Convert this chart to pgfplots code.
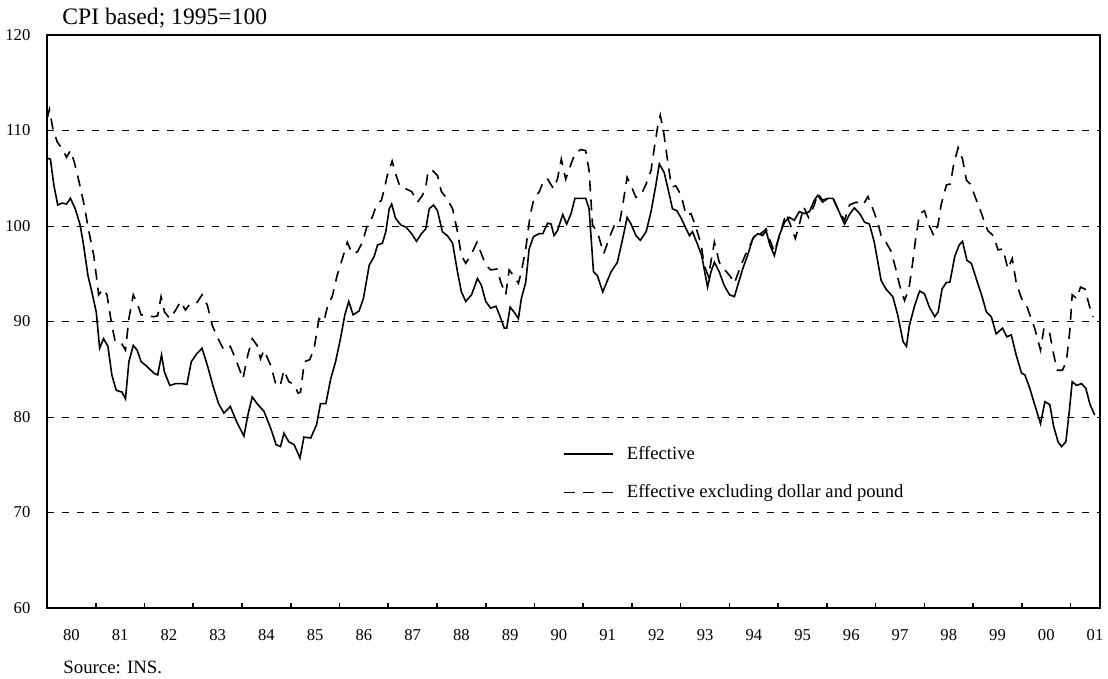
\documentclass[border=0pt]{standalone}
\usepackage{fontspec}
\setmainfont{Liberation Serif}
\usepackage{pgfplots}
\pgfplotsset{compat=1.18}
\usepackage{pgfplotstable}

% effective exchange rate, CPI based, 1995=100
\pgfplotstableread{
year val
1980.00 107.1
1980.07 107.0
1980.14 104.3
1980.22 102.2
1980.31 102.4
1980.40 102.3
1980.48 102.9
1980.58 101.8
1980.68 100.1
1980.75 98.0
1980.84 94.8
1980.92 93.1
1981.01 91.0
1981.08 87.2
1981.16 88.2
1981.25 87.4
1981.33 84.4
1981.42 82.8
1981.54 82.6
1981.61 81.9
1981.68 85.8
1981.77 87.5
1981.85 87.0
1981.93 85.8
1982.05 85.3
1982.19 84.6
1982.27 84.4
1982.35 86.5
1982.41 84.7
1982.52 83.3
1982.64 83.5
1982.77 83.5
1982.87 83.4
1982.96 85.8
1983.07 86.6
1983.18 87.2
1983.29 85.4
1983.42 83.0
1983.52 81.4
1983.63 80.4
1983.76 81.1
1983.89 79.5
1984.04 78.0
1984.12 80.2
1984.21 82.1
1984.31 81.4
1984.45 80.6
1984.59 78.8
1984.70 77.1
1984.79 76.9
1984.86 78.3
1984.96 77.4
1985.07 77.1
1985.19 75.7
1985.27 77.9
1985.41 77.8
1985.53 79.2
1985.61 81.4
1985.72 81.4
1985.82 84.0
1985.92 85.8
1986.02 88.2
1986.11 90.7
1986.19 92.1
1986.28 90.7
1986.40 91.1
1986.49 92.4
1986.61 95.9
1986.71 96.8
1986.78 98.0
1986.88 98.2
1986.95 99.4
1987.02 101.8
1987.07 102.3
1987.15 100.8
1987.26 100.1
1987.36 99.9
1987.48 99.2
1987.58 98.4
1987.68 99.2
1987.77 99.7
1987.84 101.8
1987.93 102.2
1988.01 101.6
1988.11 99.4
1988.21 99.0
1988.32 98.2
1988.42 95.2
1988.50 93.1
1988.59 92.1
1988.71 92.8
1988.83 94.5
1988.91 93.8
1989.00 92.1
1989.10 91.4
1989.21 91.6
1989.31 90.3
1989.38 89.3
1989.43 89.3
1989.50 91.5
1989.58 91.0
1989.67 90.3
1989.73 92.4
1989.82 94.1
1989.89 97.6
1989.98 98.9
1990.10 99.2
1990.17 99.2
1990.27 100.3
1990.34 100.2
1990.40 99.0
1990.47 99.5
1990.58 101.2
1990.66 100.2
1990.75 101.3
1990.83 102.9
1990.95 102.9
1991.05 102.9
1991.12 101.8
1991.21 95.2
1991.29 94.8
1991.40 93.1
1991.57 95.2
1991.70 96.2
1991.81 98.7
1991.90 100.9
1991.98 100.2
1992.08 99.0
1992.17 98.5
1992.29 99.4
1992.39 101.5
1992.49 104.3
1992.56 106.5
1992.66 105.6
1992.77 103.2
1992.83 101.8
1992.92 101.6
1993.01 100.8
1993.11 99.7
1993.18 99.0
1993.24 99.4
1993.35 98.0
1993.43 96.9
1993.48 95.5
1993.55 93.6
1993.62 95.2
1993.69 96.2
1993.79 95.2
1993.89 93.8
1994.00 92.8
1994.10 92.6
1994.17 93.8
1994.27 95.5
1994.37 96.9
1994.48 98.7
1994.58 99.2
1994.68 99.0
1994.75 99.5
1994.83 98.0
1994.92 96.9
1995.02 99.0
1995.13 100.4
1995.23 100.9
1995.33 100.6
1995.43 101.5
1995.54 101.3
1995.64 101.5
1995.74 102.7
1995.81 103.2
1995.91 102.5
1996.02 102.9
1996.12 102.9
1996.22 101.8
1996.36 100.2
1996.46 101.2
1996.56 101.9
1996.67 101.3
1996.77 100.4
1996.87 100.2
1996.97 98.3
1997.11 94.3
1997.21 93.4
1997.35 92.6
1997.45 90.7
1997.56 87.9
1997.63 87.4
1997.69 89.6
1997.80 91.7
1997.90 93.2
1998.00 92.9
1998.10 91.5
1998.21 90.5
1998.28 91.0
1998.36 93.4
1998.45 94.1
1998.52 94.1
1998.62 96.8
1998.71 98.0
1998.78 98.4
1998.87 96.4
1998.96 96.1
1999.06 94.5
1999.17 92.8
1999.27 91.0
1999.37 90.5
1999.47 88.7
1999.60 89.3
1999.69 88.4
1999.78 88.6
1999.88 86.5
1999.99 84.6
2000.06 84.4
2000.16 83.0
2000.26 81.3
2000.38 79.3
2000.47 81.6
2000.57 81.3
2000.65 79.0
2000.74 77.4
2000.81 76.9
2000.90 77.4
2000.97 80.6
2001.03 83.7
2001.12 83.3
2001.22 83.5
2001.31 83.0
2001.39 81.4
2001.49 80.2
}\effective

% effective excluding dollar and pound
\pgfplotstableread{
year val
1980.00 111.2
1980.05 112.2
1980.12 110.2
1980.21 108.8
1980.31 108.1
1980.40 107.2
1980.48 107.9
1980.56 106.7
1980.65 104.8
1980.75 102.5
1980.86 99.4
1980.96 96.9
1981.06 92.8
1981.15 93.4
1981.23 92.8
1981.33 89.6
1981.40 87.9
1981.52 87.8
1981.61 87.0
1981.68 90.3
1981.77 92.8
1981.85 91.9
1981.93 90.7
1982.05 90.6
1982.19 90.5
1982.27 90.6
1982.34 92.6
1982.41 91.0
1982.52 90.3
1982.64 91.2
1982.74 92.1
1982.84 91.2
1982.94 91.9
1983.08 92.0
1983.18 92.8
1983.29 91.7
1983.39 89.6
1983.49 88.4
1983.63 87.0
1983.76 87.4
1983.89 85.8
1984.02 84.0
1984.12 86.5
1984.21 88.2
1984.31 87.5
1984.38 86.1
1984.45 87.0
1984.59 85.4
1984.69 83.5
1984.78 83.2
1984.86 84.9
1984.96 83.7
1985.07 83.4
1985.15 82.5
1985.20 82.6
1985.28 85.8
1985.39 86.0
1985.48 87.2
1985.58 90.3
1985.68 90.0
1985.76 91.7
1985.85 92.6
1985.95 94.8
1986.06 96.6
1986.16 98.3
1986.26 97.1
1986.37 97.3
1986.47 98.3
1986.56 99.9
1986.67 100.9
1986.76 102.2
1986.86 102.7
1986.93 104.1
1986.98 105.3
1987.08 106.8
1987.15 105.5
1987.24 104.1
1987.36 103.9
1987.48 103.6
1987.60 102.5
1987.70 103.2
1987.77 104.1
1987.82 105.8
1987.91 105.8
1988.01 105.3
1988.09 103.6
1988.20 102.9
1988.32 101.8
1988.42 99.4
1988.50 96.9
1988.59 96.1
1988.69 96.9
1988.82 98.3
1988.91 97.1
1989.00 95.9
1989.10 95.4
1989.23 95.5
1989.31 94.1
1989.41 92.8
1989.48 95.4
1989.57 94.8
1989.67 94.0
1989.73 95.2
1989.82 97.6
1989.91 101.1
1989.99 102.9
1990.10 103.6
1990.20 104.9
1990.27 104.9
1990.39 103.9
1990.47 104.9
1990.55 107.0
1990.64 104.9
1990.75 106.5
1990.83 107.6
1990.95 108.0
1991.05 107.9
1991.12 105.8
1991.19 100.1
1991.29 99.4
1991.42 97.1
1991.53 98.7
1991.64 100.1
1991.74 100.2
1991.81 102.2
1991.90 105.1
1991.99 104.1
1992.08 103.0
1992.18 103.2
1992.29 104.4
1992.39 105.8
1992.47 108.6
1992.53 110.5
1992.58 111.6
1992.65 109.8
1992.72 107.2
1992.79 104.8
1992.83 104.1
1992.90 104.2
1993.01 103.2
1993.11 101.1
1993.21 101.3
1993.31 99.9
1993.42 98.0
1993.48 95.9
1993.57 94.7
1993.63 96.6
1993.69 98.3
1993.79 96.2
1993.89 95.5
1994.02 94.7
1994.10 94.0
1994.20 95.4
1994.31 96.8
1994.44 98.2
1994.55 99.4
1994.65 99.2
1994.75 99.7
1994.83 98.5
1994.92 97.3
1995.02 98.9
1995.16 101.3
1995.25 100.1
1995.35 98.7
1995.43 100.1
1995.52 102.0
1995.62 100.9
1995.74 102.2
1995.81 103.4
1995.91 102.7
1996.02 102.9
1996.12 103.0
1996.22 101.8
1996.36 100.6
1996.46 102.2
1996.60 102.5
1996.74 102.2
1996.84 103.1
1996.94 101.8
1997.04 100.4
1997.11 99.0
1997.21 98.3
1997.32 97.3
1997.41 95.5
1997.49 93.8
1997.59 92.2
1997.68 93.4
1997.75 95.9
1997.82 98.7
1997.90 101.3
1998.00 101.6
1998.09 100.1
1998.19 99.0
1998.28 100.2
1998.34 102.2
1998.45 104.3
1998.53 104.4
1998.60 106.5
1998.69 108.2
1998.78 107.0
1998.86 104.8
1998.94 104.4
1999.05 102.9
1999.17 101.3
1999.23 100.4
1999.30 99.5
1999.41 99.0
1999.51 97.5
1999.61 97.6
1999.71 95.5
1999.80 96.6
1999.88 94.1
1999.99 92.4
2000.08 91.9
2000.16 90.7
2000.26 89.3
2000.38 87.0
2000.45 89.3
2000.56 89.0
2000.64 86.8
2000.72 84.9
2000.83 84.9
2000.91 85.8
2000.98 89.0
2001.03 92.8
2001.12 92.4
2001.20 93.6
2001.29 93.4
2001.39 91.5
2001.46 90.5
}\excluding

\begin{document}
\begin{tikzpicture}
\path[use as bounding box] (0,0) rectangle (554pt,339.5pt);
\begin{axis}[
  name=ax,
  at={(23.5pt,35.5pt)}, anchor=south west,
  scale only axis, width=526.5pt, height=286.5pt,
  xmin=1980, xmax=2001.6, ymin=60, ymax=120,
  axis line style={line width=0.9pt},
  xtick={1980.5,1981.5,...,2001.5},
  xticklabels={80,81,82,83,84,85,86,87,88,89,90,91,92,93,94,95,96,97,98,99,00,01},
  minor xtick={1981,1982,...,2001},
  major tick length=0pt, minor tick length=2.5pt,
  minor tick style={line width=0.8pt, black},
  tick align=inside,
  xtick pos=bottom, ytick pos=left,
  ytick={60,70,...,120},
  ymajorgrids,
  major grid style={black, line width=0.45pt, dash pattern=on 3.5pt off 4pt},
  /pgf/number format/assume math mode=true,
  tick label style={font=\fontsize{8.3}{10}\selectfont},
  xticklabel style={yshift=-7pt},
  yticklabel style={xshift=-4.8pt},
  legend cell align=left,
  legend image code/.code={\draw[#1] (0pt,0pt) -- (24.5pt,0pt);},
  legend style={at={(0.49,0.29)}, anchor=north west, draw=none, fill=none,
    inner sep=0pt, row sep=7pt, font=\fontsize{9.3}{11}\selectfont,
    /tikz/every odd column/.append style={column sep=4.5pt}},
]
\addplot[black, line width=0.8pt] table[x=year, y=val] {\effective};
\addlegendentry{Effective}
\addplot[black, line width=0.8pt, dash pattern=on 5.5pt off 4pt] table[x=year, y=val] {\excluding};
\addlegendentry{Effective excluding dollar and pound}
\end{axis}
\node[anchor=west, inner sep=0pt, font=\fontsize{11.8}{14}\selectfont] at (31pt,330.5pt) {CPI based; 1995=100};
\node[anchor=west, inner sep=0pt, font=\fontsize{9.4}{11}\selectfont] at (31.5pt,6pt) {Source: INS.};
\end{tikzpicture}
\end{document}
